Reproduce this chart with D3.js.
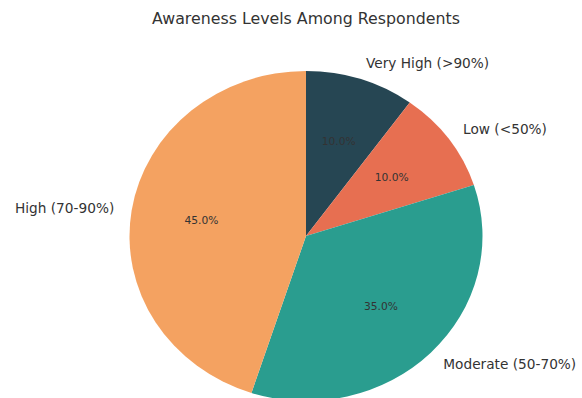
<!DOCTYPE html>
<html>
<head>
<meta charset="utf-8">
<script src="https://cdn.jsdelivr.net/npm/d3@7"></script>
<style>
  html, body { margin: 0; padding: 0; background: #fff; }
  svg { display: block; font-family: "DejaVu Sans", sans-serif; }
</style>
</head>
<body>
<svg id="chart" width="582" height="398"></svg>
<script>
// Awareness categories, in clockwise order from 12 o'clock
const categories = ["Very High (>90%)", "Low (<50%)", "Moderate (50-70%)", "High (70-90%)"];
const shares = [10, 10, 35, 45];
const colors = ["#264653", "#e76f51", "#2a9d8f", "#f4a261"];

const svg = d3.select("#chart");
const cx = 306, cy = 236;
const rx = 176.5, ry = 165;   // the pie is drawn slightly squashed vertically
const yScale = ry / rx;

svg.append("text")
  .attr("x", 306).attr("y", 24)
  .attr("text-anchor", "middle")
  .attr("font-size", 15.8)
  .attr("fill", "#333")
  .text("Awareness Levels Among Respondents");

const data = categories.map((c, i) => ({ label: c, value: shares[i], color: colors[i] }));
const pie = d3.pie().value(d => d.value).sort(null);
const arcs = pie(data);
const arc = d3.arc().innerRadius(0).outerRadius(rx);

const g = svg.append("g").attr("transform", `translate(${cx},${cy}) scale(1,${yScale})`);
g.selectAll("path")
  .data(arcs)
  .join("path")
  .attr("d", arc)
  .attr("fill", d => d.data.color);

const total = d3.sum(shares);
// point at a given fraction of the radius along a slice's mid angle
const at = (d, k) => {
  const a = (d.startAngle + d.endAngle) / 2;
  return [cx + k * rx * Math.sin(a), cy - k * ry * Math.cos(a)];
};

// percentage labels inside each slice
svg.selectAll("text.pct")
  .data(arcs)
  .join("text")
  .attr("class", "pct")
  .attr("x", d => at(d, 0.6)[0])
  .attr("y", d => at(d, 0.6)[1])
  .attr("text-anchor", "middle")
  .attr("dominant-baseline", "central")
  .attr("font-size", 10.7)
  .attr("fill", "#333")
  .text(d => (d.data.value / total * 100).toFixed(1) + "%");

// category labels outside the pie
svg.selectAll("text.cat")
  .data(arcs)
  .join("text")
  .attr("class", "cat")
  .attr("x", d => at(d, 1.1)[0])
  .attr("y", d => at(d, 1.1)[1])
  .attr("text-anchor", d => at(d, 1.1)[0] >= cx ? "start" : "end")
  .attr("dominant-baseline", "central")
  .attr("font-size", 13.7)
  .attr("fill", "#333")
  .text(d => d.data.label);
</script>
</body>
</html>
